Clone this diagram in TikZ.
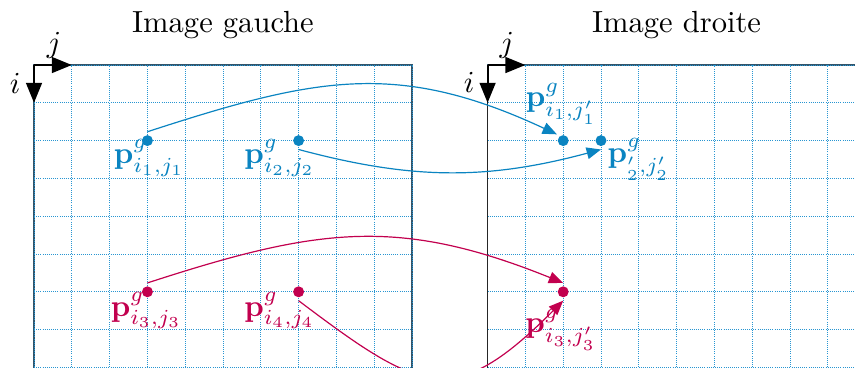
\documentclass[tikz,border=0pt]{standalone}
\usetikzlibrary{arrows.meta, positioning}
\usepackage{xcolor}

\definecolor{bleu}{RGB}{10,132,193}
\definecolor{rouge}{RGB}{194,0,78}
\definecolor{grille}{RGB}{40,150,210}
\definecolor{cadre}{RGB}{50,85,108}

\tikzset{
  pt/.style={circle, minimum size=2.9mm, inner sep=0pt, outer sep=0.9mm},
  lbl/.style={scale=2.3, inner sep=0pt},
  axe/.style={line width=1.5pt, -{Triangle[length=5.3mm,width=4.2mm]}},
  fleche/.style={line width=0.9pt, -{Triangle[length=3.8mm,width=3.1mm]}},
  quad/.style={grille, densely dotted, line width=0.6pt}
}

\begin{document}
\begin{tikzpicture}
            \clip (-0.9,-8) rectangle (21.72,1.72);
            % image gauche
            \draw[cadre, line width=1.2pt] (0,0) rectangle (10,-9);
            \draw[quad] (0,0) grid (10,-9);
            \node[lbl] (tg) at (5,1.06) {Image gauche};
            \coordinate (og) at (0,0);
            \coordinate (jg) at (1,0);
            \coordinate (ig) at (0,-1);
            \draw[axe] (og) -- (jg);
            \draw[axe] (og) -- (ig);
            \node[lbl] (lig) at (-0.5,-0.48) {$i$};
            \node[lbl] (ljg) at (0.53,0.53) {$j$};
            % image droite
            \draw[cadre, line width=1.2pt] (12,0) rectangle (22,-9);
            \draw[quad] (12,0) grid (22,-9);
            \draw[line width=1.2pt, black!85] (12,0) -- (12,-9);
            \node[lbl] (td) at (17,1.06) {Image droite};
            \coordinate (od) at (12,0);
            \coordinate (jd) at (13,0);
            \coordinate (id) at (12,-1);
            \draw[axe] (od) -- (jd);
            \draw[axe] (od) -- (id);
            \node[lbl] (lid) at (11.51,-0.46) {$i$};
            \node[lbl] (ljd) at (12.51,0.53) {$j$};
            % points
            \node[pt, fill=bleu] (g1) at (3,-2) {};
            \node[pt, fill=bleu] (g2) at (7,-2) {};
            \node[pt, fill=bleu] (d1) at (14,-2) {};
            \node[pt, fill=bleu] (d2) at (15,-2) {};
            \node[pt, fill=rouge] (g3) at (3,-6) {};
            \node[pt, fill=rouge] (g4) at (7,-6) {};
            \node[pt, fill=rouge] (d3) at (14,-6) {};
            \node[lbl, bleu] (lg1) at (3.05,-2.46) {$\mathbf{p}^g_{i_1,j_1}$};
            \node[lbl, bleu] (lg2) at (6.5,-2.46) {$\mathbf{p}^g_{i_2,j_2}$};
            \node[lbl, bleu] (ld1) at (13.95,-1.02) {$\mathbf{p}^g_{i_1,j'_1}$};
            \node[lbl, bleu] (ld2) at (16.0,-2.5) {$\mathbf{p}^g_{'_2,j'_2}$};
            \node[lbl, rouge] (lg3) at (2.97,-6.5) {$\mathbf{p}^g_{i_3,j_3}$};
            \node[lbl, rouge] (lg4) at (6.5,-6.5) {$\mathbf{p}^g_{i_4,j_4}$};
            \node[lbl, rouge] (ld3) at (13.94,-7.0) {$\mathbf{p}^g_{i_3,j'_3}$};
            % correspondances
            \draw[fleche, bleu] (g1.north) to[out=18, in=155, looseness=1.1] (d1.north west);
            \draw[fleche, bleu] (g2.south) to[out=-15, in=195] (d2.south);
            \draw[fleche, rouge] (g3.north) to[out=18, in=158, looseness=1.1] (d3.north);
            \draw[fleche, rouge] (g4.south) to[out=-37, in=225, looseness=1.5] (d3.south);
        \end{tikzpicture}
\end{document}
